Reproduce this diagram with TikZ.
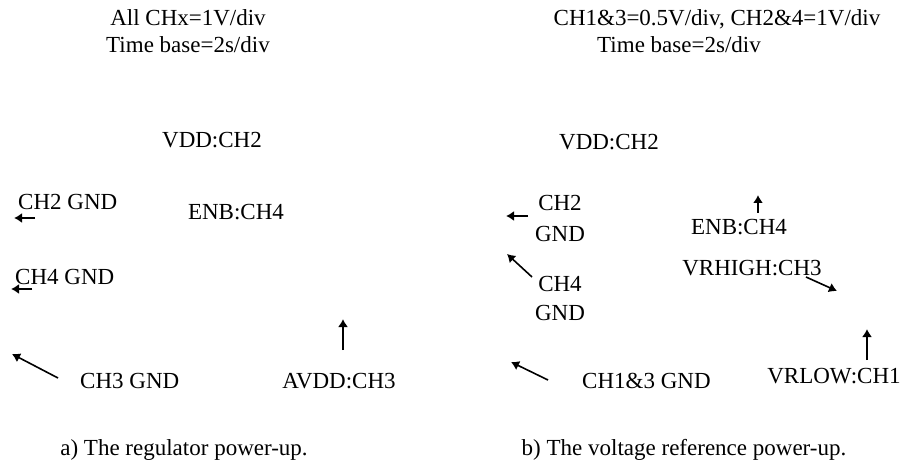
\documentclass[tikz,border=0pt]{standalone}
\usepackage{fontspec}
\setmainfont{Liberation Serif}
\usetikzlibrary{arrows.meta}
\begin{document}
\begin{tikzpicture}[x=1pt,y=-1pt,
  lbl/.style={inner sep=0pt,anchor=base,font=\fontsize{23}{27}\selectfont},
  lbll/.style={lbl,anchor=base west},
  arr/.style={line width=1.6pt,-{Latex[length=8pt,width=10pt]}}]
\useasboundingbox (0,0) rectangle (901,470);
% left panel
\node[lbl] (ta1) at (188,26) {All CHx=1V/div};
\node[lbl] (ta2) at (188,53) {Time base=2s/div};
\node[lbl] (avdd2) at (212,148) {VDD:CH2};
\node[lbll] (ach2) at (18,210) {CH2 GND};
\node[lbl] (aenb) at (236,220) {ENB:CH4};
\node[lbll] (ach4) at (15,284) {CH4 GND};
\node[lbll] (ach3) at (80,388) {CH3 GND};
\node[lbl] (aavdd) at (339,388) {AVDD:CH3};
\node[lbl] (capa) at (184,455) {a) The regulator power-up.};
\coordinate (a1s) at (35,218); \coordinate (a1e) at (14,218);
\coordinate (a2s) at (32,289); \coordinate (a2e) at (11,289);
\coordinate (a3s) at (58,378); \coordinate (a3e) at (12,354);
\coordinate (a4s) at (343,350); \coordinate (a4e) at (343,319);
\draw[arr] (a1s) -- (a1e);
\draw[arr] (a2s) -- (a2e);
\draw[arr] (a3s) -- (a3e);
\draw[arr] (a4s) -- (a4e);
% right panel
\node[lbl] (tb1) at (717,26) {CH1\&3=0.5V/div, CH2\&4=1V/div};
\node[lbl] (tb2) at (679,53) {Time base=2s/div};
\node[lbl] (bvdd2) at (609,150) {VDD:CH2};
\node[lbl] (bch2a) at (560,211) {CH2};
\node[lbl] (bch2b) at (560,241) {GND};
\node[lbl] (bch4a) at (560,291) {CH4};
\node[lbl] (bch4b) at (560,320) {GND};
\node[lbl] (benb) at (739,235) {ENB:CH4};
\node[lbl] (bvrh) at (752,275) {VRHIGH:CH3};
\node[lbll] (bch13) at (582,388) {CH1\&3 GND};
\node[lbl] (bvrl) at (834,383) {VRLOW:CH1};
\node[lbl] (capb) at (684,455) {b) The voltage reference power-up.};
\coordinate (b1s) at (528,216); \coordinate (b1e) at (506,216);
\coordinate (b2s) at (532,277); \coordinate (b2e) at (507,254);
\coordinate (b3s) at (548,380); \coordinate (b3e) at (511,362);
\coordinate (b4s) at (758,213); \coordinate (b4e) at (758,195);
\coordinate (b5s) at (806,277); \coordinate (b5e) at (837,291);
\coordinate (b6s) at (867,360); \coordinate (b6e) at (867,329);
\draw[arr] (b1s) -- (b1e);
\draw[arr] (b2s) -- (b2e);
\draw[arr] (b3s) -- (b3e);
\draw[arr] (b4s) -- (b4e);
\draw[arr] (b5s) -- (b5e);
\draw[arr] (b6s) -- (b6e);
\end{tikzpicture}
\end{document}
